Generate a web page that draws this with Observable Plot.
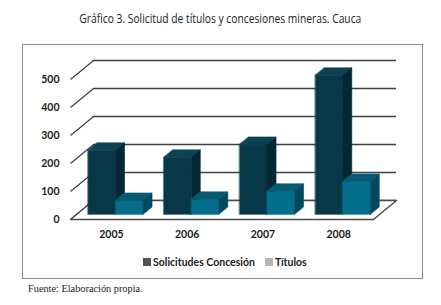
<!DOCTYPE html>
<html>
<head>
<meta charset="utf-8">
<script src="https://cdn.jsdelivr.net/npm/d3@7"></script>
<script src="https://cdn.jsdelivr.net/npm/@observablehq/plot@0.6"></script>
<style>
  html, body { margin: 0; padding: 0; background: #fff; }
  #page { position: relative; width: 441px; height: 305px; overflow: hidden; background: #fff; }
  #title { position: absolute; left: 0; width: 441px; top: 9px; text-align: center; white-space: nowrap; }
  #title span { display: inline-block; font-family: "Open Sans", sans-serif; font-size: 13px; color: #222; transform-origin: 50% 50%; }
  #frame { position: absolute; left: 22px; top: 44px; width: 399px; height: 233px; border: 1px solid #8a8a8a; }
  #chart { position: absolute; left: 0; top: 0; }
  #legend { position: absolute; top: 211px; left: 0; width: 399px; font-family: Lato, sans-serif; font-size: 10.5px; font-weight: bold; color: #222; }
  .sw { position: absolute; width: 8px; height: 8px; top: 2px; }
  .lt { position: absolute; top: 0; white-space: nowrap; }
  #foot { position: absolute; left: 28px; top: 283px; font-family: "Liberation Serif", serif; font-size: 10.3px; color: #222; }
</style>
</head>
<body>
<div id="page">
  <div id="title"><span id="titleText">Gráfico 3. Solicitud de títulos y concesiones mineras. Cauca</span></div>
  <div id="frame">
    <div id="chart"></div>
    <div id="legend"></div>
  </div>
  <div id="foot">Fuente: Elaboración propia.</div>
</div>
<script>
// ---- data ----
const years = ["2005", "2006", "2007", "2008"];
const solicitudes = [229, 204, 250, 497];
const titulos = [50, 54, 83, 118];
const yTicks = [0, 100, 200, 300, 400, 500];
const seriesNames = ["Solicitudes Concesión", "Títulos"];
const legendColors = ["#555555", "#b5b5b5"];

// ---- 3D projection parameters (category units, value units) ----
const DU = 0.3036;   // depth shift in x (category units)
const DV = 67.9;     // depth shift in y (value units)
const barW = 0.363, barStart = 0.15, d0 = 0.27, d1 = 0.66;
const P = (u, v, d) => ({x: u + d * DU, y: v + d * DV});

const faceColors = [
  {front: "#083848", top: "#0c4252", side: "#042833"},
  {front: "#046e8c", top: "#065a72", side: "#03495d"}
];

// Build polygons from data
const polys = [];
const addPoly = (id, color, pts) => pts.forEach(p => polys.push({id, color, x: p.x, y: p.y}));
const series = [solicitudes, titulos];
years.forEach((yr, i) => {
  series.forEach((vals, s) => {
    const v = vals[i];
    const x0 = i + barStart + s * barW, x1 = x0 + barW;
    const c = faceColors[s];
    addPoly(`f${i}${s}`, c.front, [P(x0,0,d0), P(x1,0,d0), P(x1,v,d0), P(x0,v,d0)]);
    addPoly(`t${i}${s}`, c.top,   [P(x0,v,d0), P(x1,v,d0), P(x1,v,d1), P(x0,v,d1)]);
    addPoly(`s${i}${s}`, c.side,  [P(x1,0,d0), P(x1,0,d1), P(x1,v,d1), P(x1,v,d0)]);
  });
});
const n = years.length;
const floor = [P(0,0,0), P(n,0,0), P(n,0,1), P(0,0,1)].map(p => ({...p, id: "floor"}));

const gridColor = "#34434b";
const chart = Plot.plot({
  width: 399,
  height: 205,
  margin: 0,
  x: {type: "linear", domain: [0, 4], range: [47, 350], axis: null},
  y: {type: "linear", domain: [0, 500], range: [174, 34], axis: null},
  color: {type: "identity"},
  style: {background: "transparent", overflow: "visible"},
  marks: [
    Plot.ruleY(yTicks, {y: v => v + DV, x1: DU, x2: n + DU, stroke: gridColor, strokeWidth: 1.4}),
    Plot.link(yTicks, {x1: 0, y1: v => v, x2: DU, y2: v => v + DV, stroke: gridColor, strokeWidth: 1.2}),
    Plot.line(floor, {x: "x", y: "y", z: "id", curve: "linear-closed", fill: "white", stroke: "#4a4a4a", strokeWidth: 1.4}),
    Plot.line(polys, {x: "x", y: "y", z: "id", curve: "linear-closed", fill: "color", stroke: "color", strokeWidth: 0.6}),
    Plot.text(yTicks, {x: 0, y: v => v, text: v => String(v), dx: -11, textAnchor: "end",
      fontFamily: "Lato, sans-serif", fontWeight: "bold", fontSize: 10.5, fill: "#1a1a1a"}),
    Plot.text(years, {x: (d, i) => i + 0.54, y: 0, dy: 15, text: d => d,
      fontFamily: "Lato, sans-serif", fontWeight: "bold", fontSize: 10.5, fill: "#1a1a1a"})
  ]
});
document.getElementById("chart").appendChild(chart);

// legend
const legend = document.getElementById("legend");
const lx = [120, 242];
seriesNames.forEach((name, i) => {
  const sw = document.createElement("div");
  sw.className = "sw"; sw.style.left = lx[i] + "px"; sw.style.background = legendColors[i];
  const t = document.createElement("div");
  t.className = "lt"; t.style.left = (lx[i] + 10) + "px"; t.textContent = name;
  legend.appendChild(sw); legend.appendChild(t);
});

// condense the title to the reference's width
const tt = document.getElementById("titleText");
const w = tt.getBoundingClientRect().width;
tt.style.transform = `scaleX(${282 / w})`;
</script>
</body>
</html>
